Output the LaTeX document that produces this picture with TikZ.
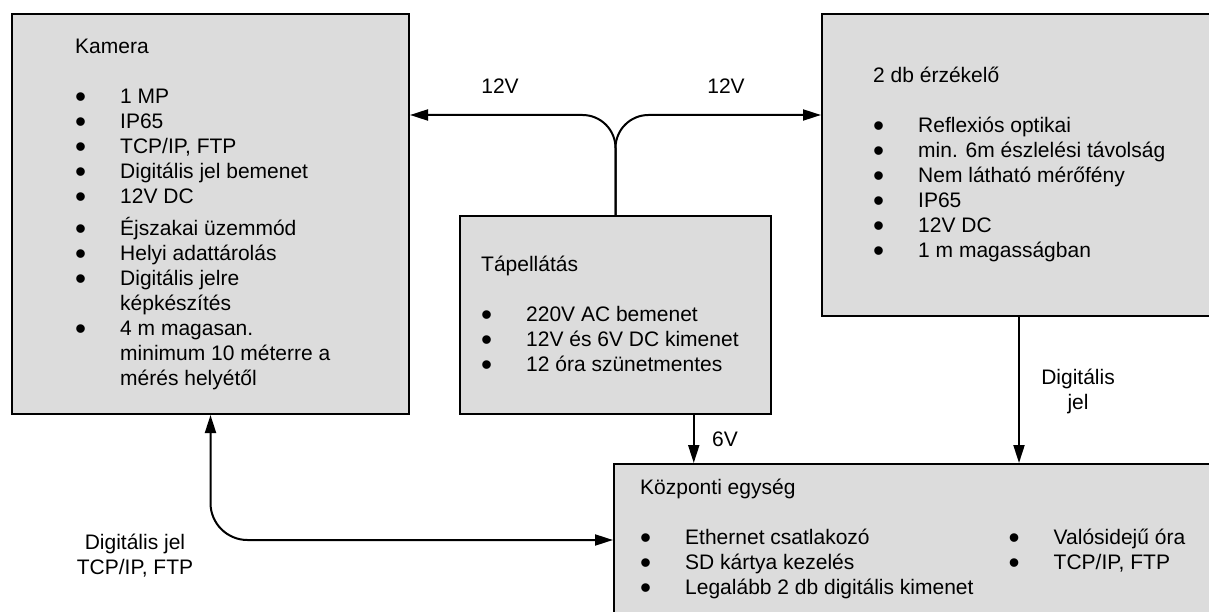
\documentclass[tikz,border=0pt]{standalone}
\usepackage{fontspec}
\usepackage{graphicx}
\setmainfont{Liberation Sans}
\usetikzlibrary{arrows.meta,calc}
\definecolor{boxgray}{RGB}{220,220,220}
\newcommand{\blt}{\raisebox{-0.17em}{\scalebox{1.5}{\textbullet}}}
\tikzset{
	block/.style={draw=black, fill=boxgray, line width=2pt, rectangle, inner sep=0pt, anchor=north west},
	txt/.style={inner sep=0pt, anchor=base west, font=\fontsize{21}{25}\selectfont},
	lbl/.style={inner sep=0pt, anchor=base, font=\fontsize{21}{25}\selectfont},
	wire/.style={line width=2pt, -{Triangle[length=18pt,width=11pt]}},
	biwire/.style={line width=2pt, {Triangle[length=18pt,width=11pt]}-{Triangle[length=18pt,width=11pt]}}
}

\begin{document}
\begin{tikzpicture}[x=1pt,y=-1pt]
			\useasboundingbox (0,0) rectangle (1209,612);
			\node[block, minimum width=397pt, minimum height=400pt] (kamera) at (11,13) {};
			\node[block, minimum width=311pt, minimum height=198pt] (tap) at (459,215) {};
			\node[block, minimum width=394pt, minimum height=302pt] (erzekelo) at (821,13) {};
			\node[block, minimum width=602pt, minimum height=152pt] (kozponti) at (613,463) {};
			\node[txt] (kameratxt) at (75,54) {\begin{tabular}[t]{@{}p{45pt}@{}l@{}}
				\multicolumn{2}{@{}l@{}}{Kamera}\\
				&\\
				\blt & 1 MP\\
				\blt & IP65\\
				\blt & TCP/IP, FTP\\
				\blt & Digitális jel bemenet\\
				\blt & 12V DC\\[6pt]
				\blt & Éjszakai üzemmód\\
				\blt & Helyi adattárolás\\
				\blt & Digitális jelre\\
				& képkészítés\\
				\blt & 4 m magasan.\\
				& minimum 10 méterre a\\
				& mérés helyétől
			\end{tabular}};
			\node[txt] (taptxt) at (481,271.5) {\begin{tabular}[t]{@{}p{45pt}@{}l@{}}
				\multicolumn{2}{@{}l@{}}{Tápellátás}\\
				&\\
				\blt & 220V AC bemenet\\
				\blt & 12V és 6V DC kimenet\\
				\blt & 12 óra szünetmentes
			\end{tabular}};
			\node[txt] (erzekelotxt) at (873,82.5) {\begin{tabular}[t]{@{}p{45pt}@{}l@{}}
				\multicolumn{2}{@{}l@{}}{2 db érzékelő}\\
				&\\
				\blt & Reflexiós optikai\\
				\blt & min. 6m észlelési távolság\\
				\blt & Nem látható mérőfény\\
				\blt & IP65\\
				\blt & 12V DC\\
				\blt & 1 m magasságban
			\end{tabular}};
			\node[txt] (kozpontitxt) at (640,494.5) {\begin{tabular}[t]{@{}p{45pt}@{}p{323.5pt}@{}p{45pt}@{}l@{}}
				\multicolumn{4}{@{}l@{}}{Központi egység}\\
				&&&\\
				\blt & Ethernet csatlakozó & \blt & Valósidejű óra\\
				\blt & SD kártya kezelés & \blt & TCP/IP, FTP\\
				\blt & Legalább 2 db digitális kimenet &&
			\end{tabular}};
			\coordinate (bus) at (0,115);
			\coordinate (sixv) at ($(tap.south)!0.5!(tap.south east)$);
			\draw[wire, rounded corners=33pt] (tap.north) |- (kamera.east |- bus);
			\draw[wire, rounded corners=33pt] (tap.north) |- (erzekelo.west |- bus);
			\draw[biwire, rounded corners=37pt] (kamera.south) |- (kozponti.west);
			\draw[wire] (sixv) -- (sixv |- kozponti.north);
			\draw[wire] (erzekelo.south) -- (erzekelo.south |- kozponti.north);
			\node[lbl] (volt12l) at (500,93.5) {12V};
			\node[lbl] (volt12r) at (726,93.5) {12V};
			\node[lbl, anchor=base west] (volt6) at (712,446.5) {6V};
			\node[lbl] (diglbl) at (1078,384.5) {\begin{tabular}[t]{@{}c@{}}Digitális\\jel\end{tabular}};
			\node[lbl] (camlbl) at (135,549) {\begin{tabular}[t]{@{}c@{}}Digitális jel\\TCP/IP, FTP\end{tabular}};
		\end{tikzpicture}
\end{document}
